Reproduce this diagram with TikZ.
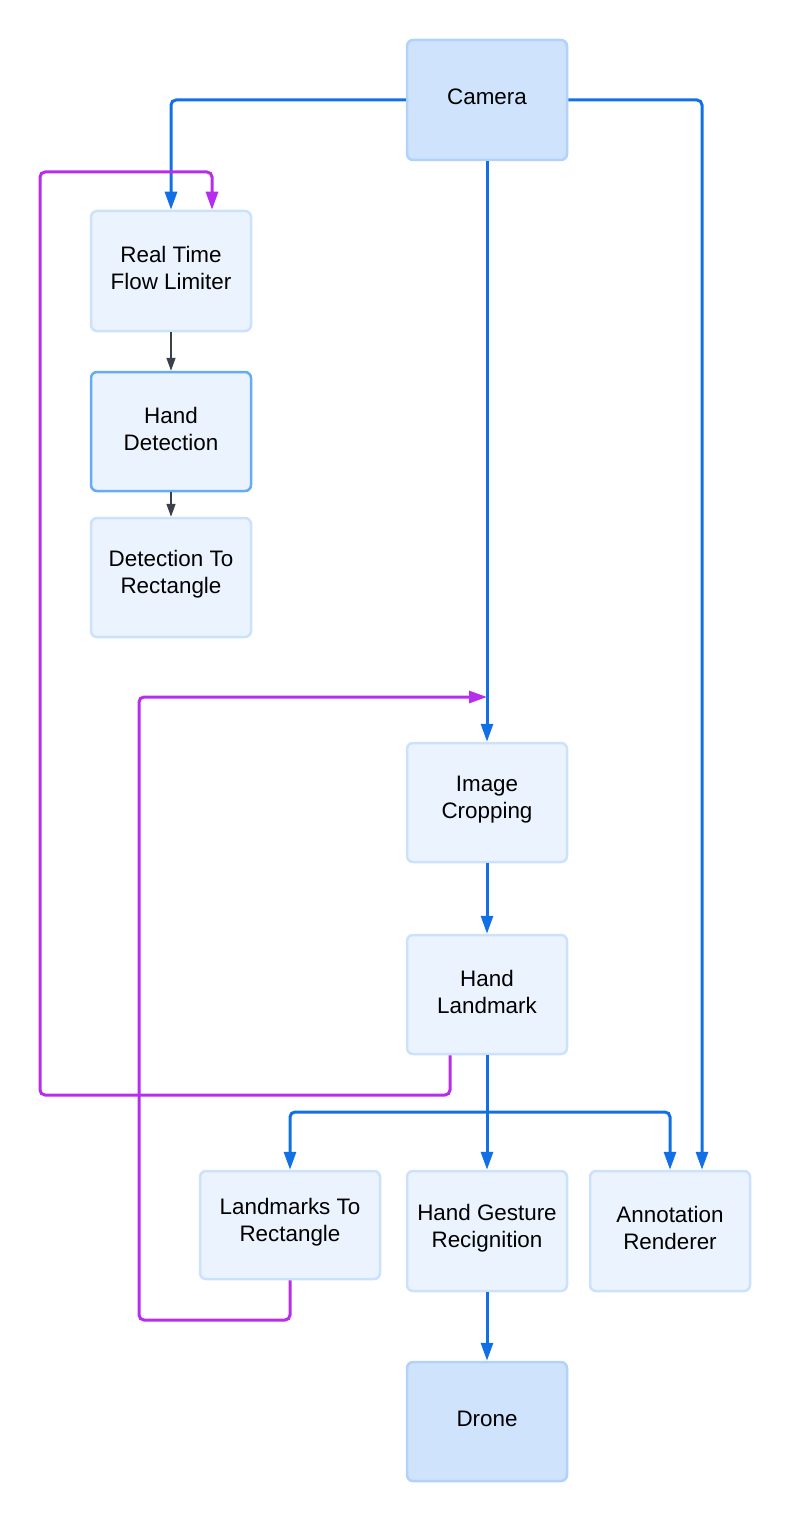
\documentclass[tikz,border=0pt]{standalone}
\usepackage{fontspec}
\setmainfont{Liberation Sans}
\usetikzlibrary{arrows.meta}
\definecolor{lbfill}{HTML}{EBF3FE}
\definecolor{lbdraw}{HTML}{CCE1FC}
\definecolor{dbfill}{HTML}{CFE3FD}
\definecolor{dbdraw}{HTML}{B1D2FB}
\definecolor{hddraw}{HTML}{66ABF7}
\definecolor{bluel}{HTML}{1270E6}
\definecolor{purl}{HTML}{B72DF0}
\definecolor{grayl}{HTML}{3A414A}
\tikzset{
  box/.style={draw=lbdraw, fill=lbfill, line width=2.5pt, rounded corners=6pt,
    minimum width=160pt, minimum height=120pt, inner sep=0pt},
  darkbox/.style={box, draw=dbdraw, fill=dbfill},
  boxtext/.style={align=center, inner sep=0pt, font=\fontsize{22.4}{27}\selectfont},
  bluearrow/.style={draw=bluel, line width=3pt, rounded corners=5pt,
    -{Triangle[length=18pt,width=12pt]}},
  purplearrow/.style={draw=purl, line width=3pt, rounded corners=5pt,
    -{Triangle[length=18pt,width=12pt]}},
  grayarrow/.style={draw=grayl, line width=1.5pt,
    -{Triangle[length=13pt,width=9pt]}},
}
\begin{document}
\begin{tikzpicture}[x=1pt,y=-1pt]
\useasboundingbox (0,0) rectangle (790,1522);
\node[darkbox] (cam) at (487,100) {};
\node[box] (rtf) at (171,271) {};
\node[box, draw=hddraw, minimum height=119pt] (hd) at (171,431.5) {};
\node[box, minimum height=119pt] (dtr) at (171,577.5) {};
\node[box, minimum height=119pt] (ic) at (487,802.5) {};
\node[box, minimum height=119pt] (hl) at (487,994.5) {};
\node[box, minimum width=180pt, minimum height=108pt] (ltr) at (290,1225) {};
\node[box] (hgr) at (487,1231) {};
\node[box] (ar) at (670,1231) {};
\node[darkbox, minimum height=119pt] (dr) at (487,1421.5) {};

\node[boxtext] (camT) at ([yshift=3pt]cam.center) {Camera};
\node[boxtext] (rtfT) at ([yshift=3pt]rtf.center) {Real Time\\Flow Limiter};
\node[boxtext] (hdT) at ([yshift=3pt]hd.center) {Hand\\Detection};
\node[boxtext] (dtrT) at ([yshift=3pt]dtr.center) {Detection To\\Rectangle};
\node[boxtext] (icT) at ([yshift=3pt]ic.center) {Image\\Cropping};
\node[boxtext] (hlT) at ([yshift=3pt]hl.center) {Hand\\Landmark};
\node[boxtext] (ltrT) at ([yshift=3pt]ltr.center) {Landmarks To\\Rectangle};
\node[boxtext] (hgrT) at ([yshift=3pt]hgr.center) {Hand Gesture\\Recignition};
\node[boxtext] (arT) at ([yshift=3pt]ar.center) {Annotation\\Renderer};
\node[boxtext] (drT) at ([yshift=3pt]dr.center) {Drone};

\coordinate (j) at (487,1112);
\coordinate (p1) at (40,1095);
\coordinate (p2) at (40,172);
\coordinate (q1) at (139,1320);
\coordinate (q2) at (139,697);
\coordinate (m) at (487,697);

% blue connectors
\draw[bluearrow] (cam.west) -| (rtf.north);
\draw[bluearrow] (cam.east) -| ([xshift=32pt]ar.north);
\draw[bluearrow] (cam.south) -- (ic.north);
\draw[bluearrow] (ic.south) -- (hl.north);
\draw[bluearrow] (hl.south) -- (hgr.north);
\draw[bluearrow] (j) -| (ltr.north);
\draw[bluearrow] (j) -| (ar.north);
\draw[bluearrow] (hgr.south) -- (dr.north);
% gray connectors
\draw[grayarrow] (rtf.south) -- (hd.north);
\draw[grayarrow] (hd.south) -- (dtr.north);
% purple connectors
\draw[purplearrow] ([xshift=-37pt]hl.south) |- (p1) -- (p2) -| ([xshift=41pt]rtf.north);
\draw[purplearrow] (ltr.south) |- (q1) -- (q2) -- (m);
\end{tikzpicture}
\end{document}
